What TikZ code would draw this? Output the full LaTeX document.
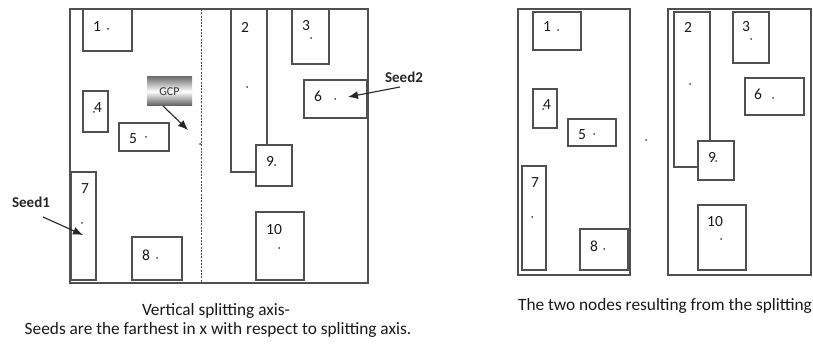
\documentclass[tikz,border=0pt]{standalone}
\usepackage{fontspec}
\setmainfont{Carlito}
\usetikzlibrary{arrows.meta}
\definecolor{ln}{HTML}{505050}
\tikzset{
  rbox/.style={draw=ln, line width=1.1pt, fill=white, inner sep=0pt, outer sep=0pt},
  num/.style={inner sep=0pt, font=\fontsize{15.5}{17}\selectfont, text=black!90},
  seedlbl/.style={inner sep=0pt, font=\bfseries\fontsize{15}{17}\selectfont, text=black!85},
  captxt/.style={inner sep=0pt, font=\fontsize{17.3}{20}\selectfont, text=black!90, align=center},
  cdot/.style={circle, fill=black!75, inner sep=0pt, minimum size=2pt},
  arr/.style={-{Latex[length=10pt,width=8pt]}, line width=1.1pt, black!85},
  axis/.style={draw=ln, line width=1pt, dash pattern=on 2pt off 1.3pt}
}
\newcommand\bx[5]{\node[rbox, minimum width={(#4-#2)*1pt}, minimum height={(#5-#3)*1pt}] (#1) at ({(#2+#4)/2},{(#3+#5)/2}) {};}
\begin{document}
\begin{tikzpicture}[x=1pt,y=-1pt]
\useasboundingbox (0,0) rectangle (813,344);
% ---------- left figure ----------
\bx{F}{70}{9}{368}{283}
\coordinate (dtop) at (201,9);
\coordinate (dbot) at (201,283);
\draw[axis] (dtop) -- (dbot);
\bx{A1}{83}{9}{132}{51}
\bx{A2}{231}{9}{267}{172}
\bx{A3}{292}{9}{329}{64}
\bx{A4}{83}{91}{108}{132}
\bx{A5}{119}{123}{169}{151}
\bx{A6}{304}{80}{367}{118}
\bx{A7}{71}{172}{96}{280}
\bx{A8}{132}{237}{182}{280}
\bx{A9}{256}{145}{292}{186}
\bx{A10}{256}{212}{304}{280}
\node[num] (a1) at (97,27) {1};   \node[cdot] (d1) at (108,29) {};
\node[num] (a2) at (245,27) {2};  \node[cdot] (d2) at (247,87) {};
\node[num] (a3) at (306,26) {3};  \node[cdot] (d3) at (311,38) {};
\node[num] (a4) at (98,108) {4};  \node[cdot] (d4) at (94,112) {};
\node[num] (a5) at (133,139) {5}; \node[cdot] (d5) at (146,137) {};
\node[num] (a6) at (318,96) {6};  \node[cdot] (d6) at (335,99) {};
\node[num] (a7) at (85,189) {7};  \node[cdot] (d7) at (82,223) {};
\node[num] (a8) at (146,255) {8}; \node[cdot] (d8) at (157,258) {};
\node[num] (a9) at (270,161) {9}; \node[cdot] (d9) at (275,165) {};
\node[num] (a10) at (274,230) {10}; \node[cdot] (d10) at (279,248) {};
\node[cdot] (gc) at (200,144) {};
% GCP
\node[top color=black!55, bottom color=black!65, middle color=white,
      minimum width=45pt, minimum height=29pt, inner sep=0pt, font=\fontsize{12}{14}\selectfont, text=black!80]
      (gcp) at (169.5,91.5) {GCP};
\coordinate (gcps) at (163,106);
\coordinate (gcpt) at (188,130);
\draw[arr] (gcps) -- (gcpt);
% seeds
\node[seedlbl] (s1) at (31,202) {Seed1};
\coordinate (s1a) at (43,217);
\coordinate (s1b) at (83,235);
\draw[arr] (s1a) -- (s1b);
\node[seedlbl] (s2) at (404,77) {Seed2};
\coordinate (s2a) at (400,87);
\coordinate (s2b) at (348,97);
\draw[arr] (s2a) -- (s2b);
% captions
\node[captxt] (c1) at (216,311) {Vertical splitting axis-};
\node[captxt] (c2) at (218,330) {Seeds are the farthest in x with respect to splitting axis.};
% ---------- right figure ----------
\bx{L}{518}{9}{630}{275}
\bx{R}{668}{9}{811}{275}
\bx{B1}{533}{12}{581}{50}
\bx{B4}{533}{89}{557}{128}
\bx{B5}{568}{119}{616}{146}
\bx{B7}{522}{166}{546}{270}
\bx{B8}{580}{229}{628}{270}
\bx{B2}{674}{12}{710}{167}
\bx{B3}{733}{12}{769}{63}
\bx{B6}{745}{78}{804}{115}
\bx{B9}{698}{141}{734}{180}
\bx{B10}{698}{205}{746}{270}
\node[num] (b1) at (547,27) {1};   \node[cdot] (e1) at (558,30) {};
\node[num] (b2) at (688,27) {2};   \node[cdot] (e2) at (690,84) {};
\node[num] (b3) at (746,27) {3};   \node[cdot] (e3) at (751,39) {};
\node[num] (b4) at (547,105) {4};  \node[cdot] (e4) at (543,109) {};
\node[num] (b5) at (582,135) {5};  \node[cdot] (e5) at (594,134) {};
\node[num] (b6) at (758,94) {6};   \node[cdot] (e6) at (773,98) {};
\node[num] (b7) at (535,183) {7};  \node[cdot] (e7) at (532,217) {};
\node[num] (b8) at (594,246) {8};  \node[cdot] (e8) at (604,249) {};
\node[num] (b9) at (712,157) {9};  \node[cdot] (e9) at (716,161) {};
\node[num] (b10) at (715,222) {10}; \node[cdot] (e10) at (721,239) {};
\node[cdot] (mid) at (646,140) {};
\node[captxt] (c3) at (665,306) {The two nodes resulting from the splitting};
\end{tikzpicture}
\end{document}
